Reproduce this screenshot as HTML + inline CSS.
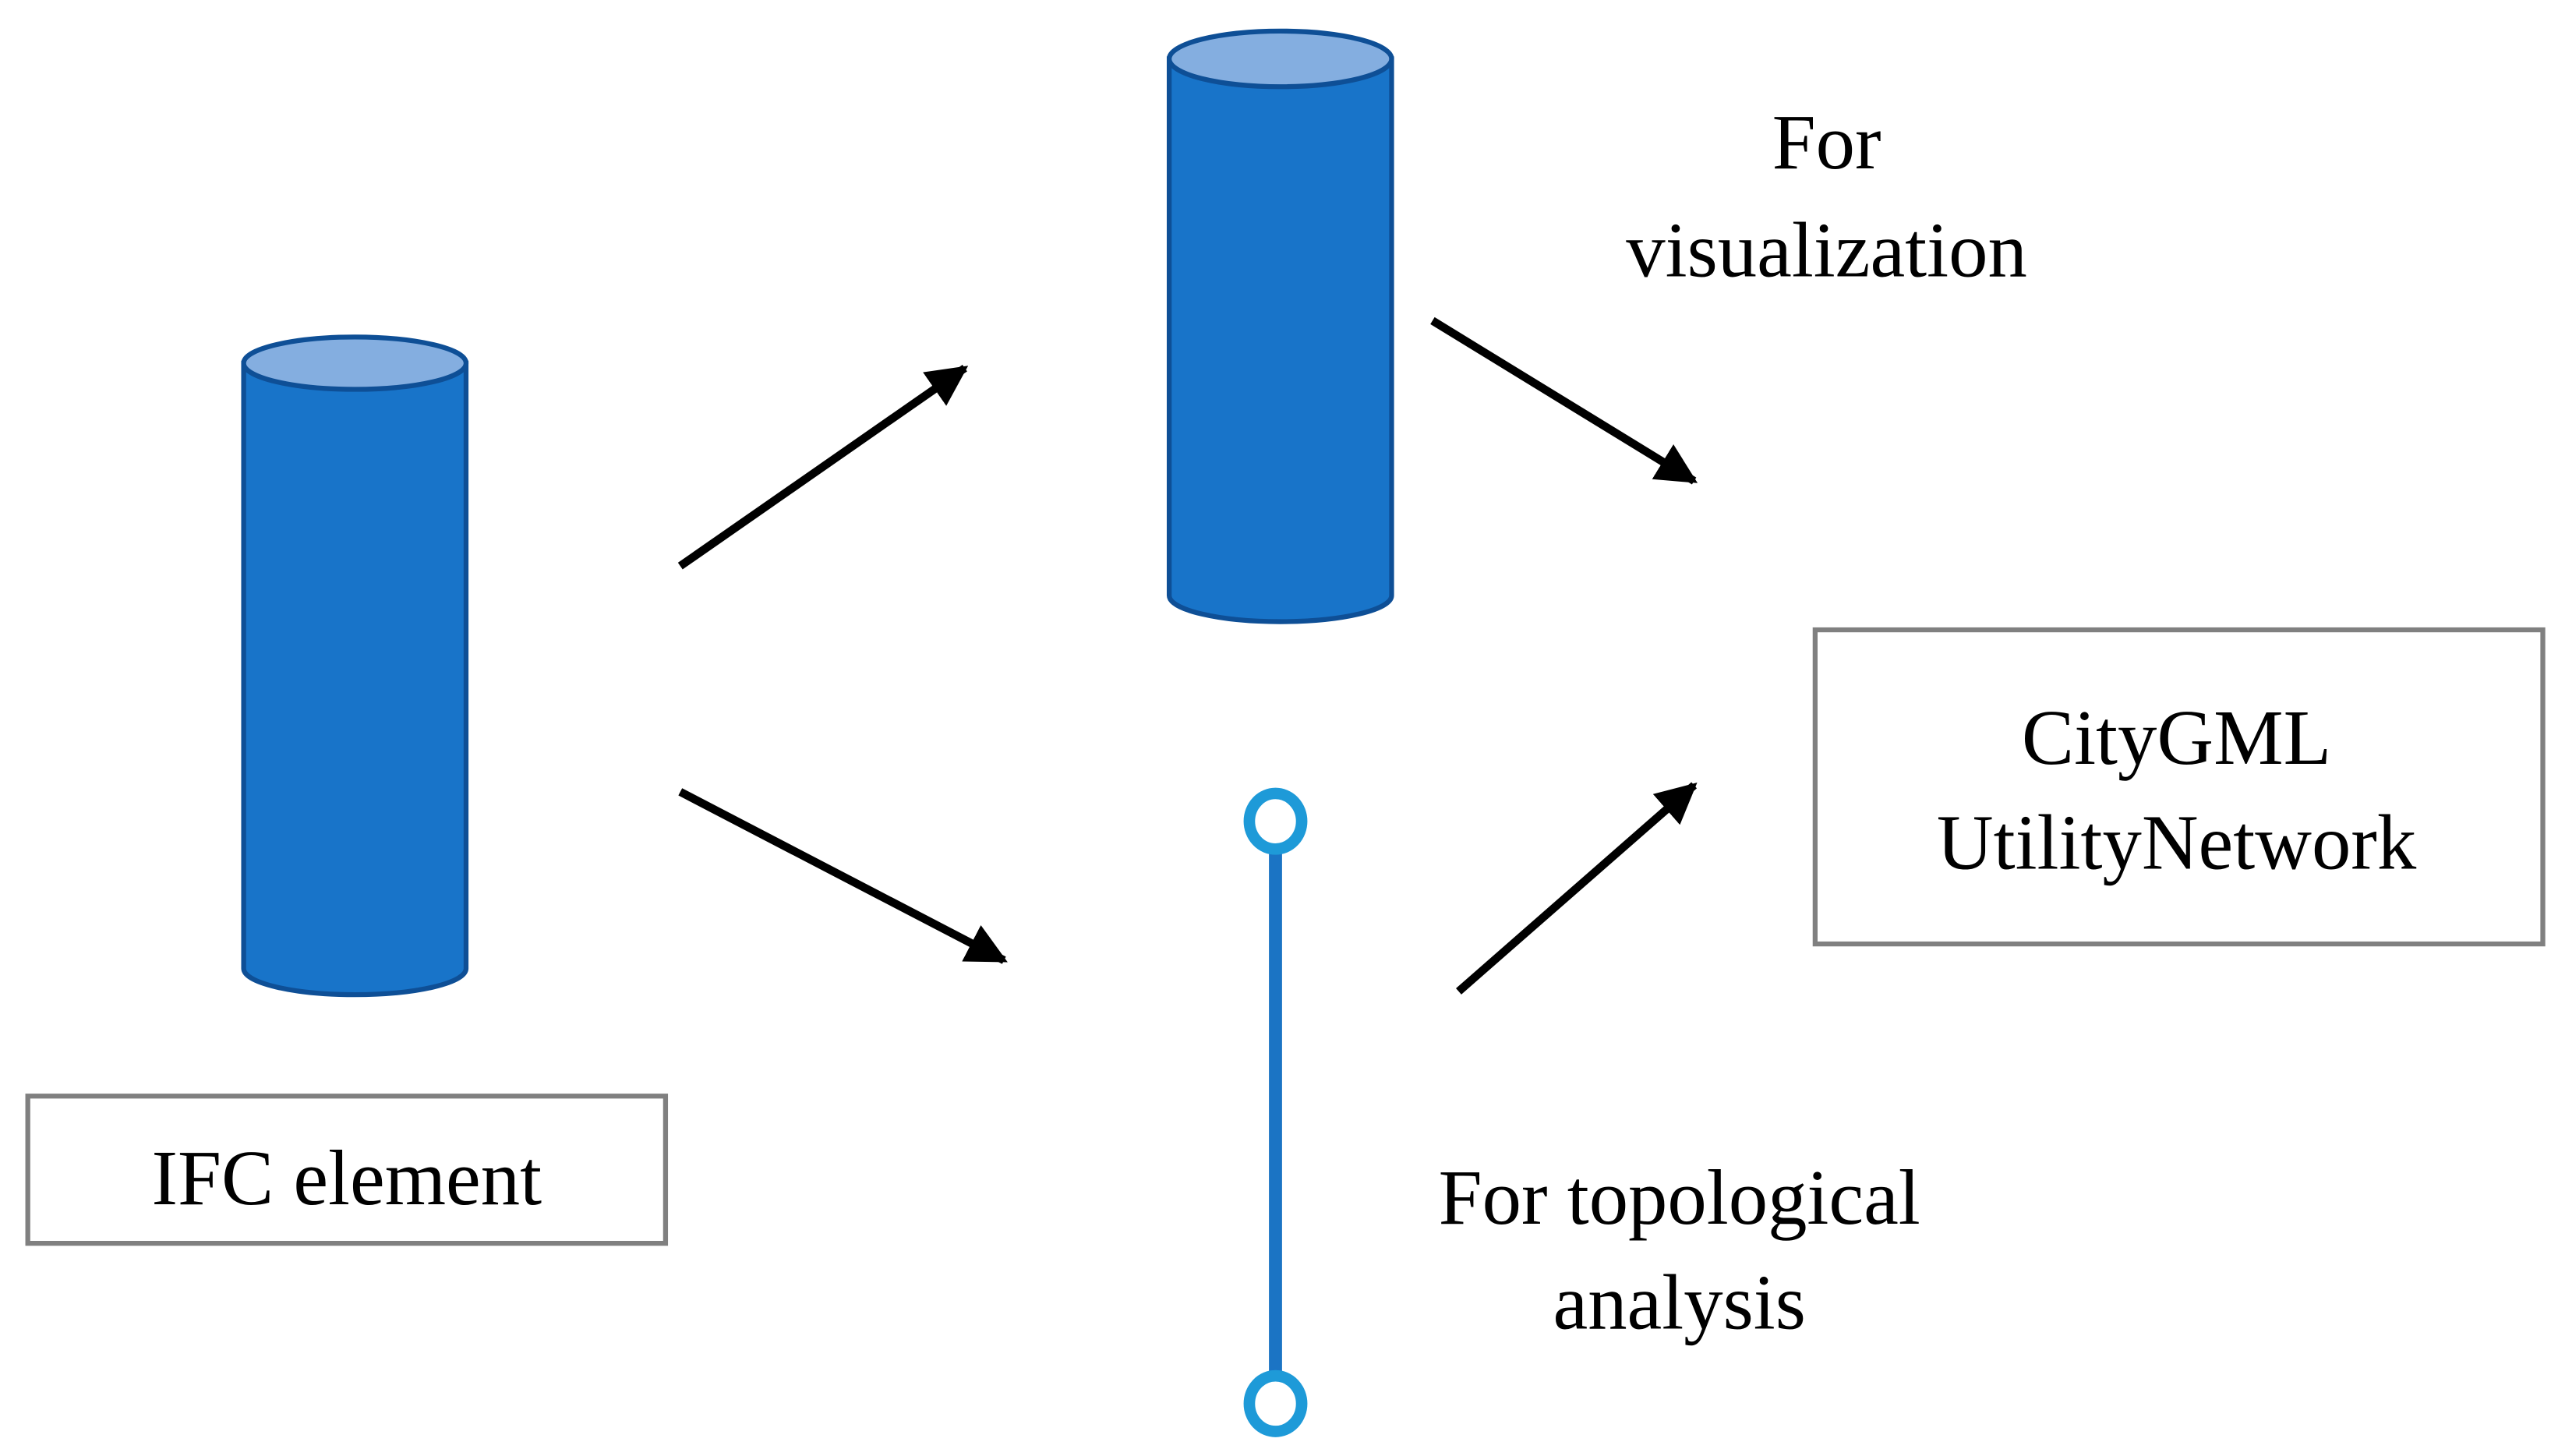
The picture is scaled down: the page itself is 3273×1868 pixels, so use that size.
<!DOCTYPE html>
<html><head><style>html,body{margin:0;padding:0;background:#fff;}svg{display:block}</style></head>
<body>
<svg width="3273" height="1868" viewBox="0 0 1560 890" preserveAspectRatio="none" xmlns="http://www.w3.org/2000/svg">
<defs><marker id="a" viewBox="0 0 10 10" refX="9" refY="5" markerWidth="5" markerHeight="5" orient="auto" markerUnits="strokeWidth"><path d="M0,0L10,5L0,10z" fill="#000"/></marker></defs>
<g stroke="#0e4f96" stroke-width="3">
<path d="M149,222 L149,592 A68,16 0 0 0 285,592 L285,222 Z" fill="#1874c9"/>
<ellipse cx="217" cy="222" rx="68" ry="16" fill="#84aee0"/>
<path d="M715,36 L715,364 A68,16 0 0 0 851,364 L851,36 Z" fill="#1874c9"/>
<ellipse cx="783" cy="36" rx="68" ry="17" fill="#84aee0"/>
</g>
<g stroke="#000" stroke-width="5" marker-end="url(#a)">
<line x1="416" y1="346" x2="590" y2="225"/>
<line x1="876" y1="196" x2="1036" y2="294"/>
<line x1="416" y1="484" x2="614" y2="587"/>
<line x1="892" y1="606" x2="1036" y2="480"/>
</g>
<line x1="780" y1="502" x2="780" y2="858" stroke="#1b74c4" stroke-width="8"/>
<ellipse cx="780" cy="502" rx="16" ry="17" fill="#fff" stroke="#1e9ad8" stroke-width="7"/>
<ellipse cx="780" cy="858" rx="16" ry="17" fill="#fff" stroke="#1e9ad8" stroke-width="7"/>
<rect x="17" y="670" width="390" height="90" fill="#fff" stroke="#808080" stroke-width="3"/>
<rect x="1110" y="385" width="445" height="192" fill="#fff" stroke="#808080" stroke-width="3"/>
<g font-family="Liberation Serif, serif" font-size="48" text-anchor="middle" fill="#000">
<text x="212" y="736">IFC element</text>
<text x="1331" y="467">CityGML</text>
<text x="1331" y="531">UtilityNetwork</text>
<text x="1117" y="103">For</text>
<text x="1117" y="169">visualization</text>
<text x="1027" y="748">For topological</text>
<text x="1027" y="812">analysis</text>
</g>
</svg>
</body></html>
